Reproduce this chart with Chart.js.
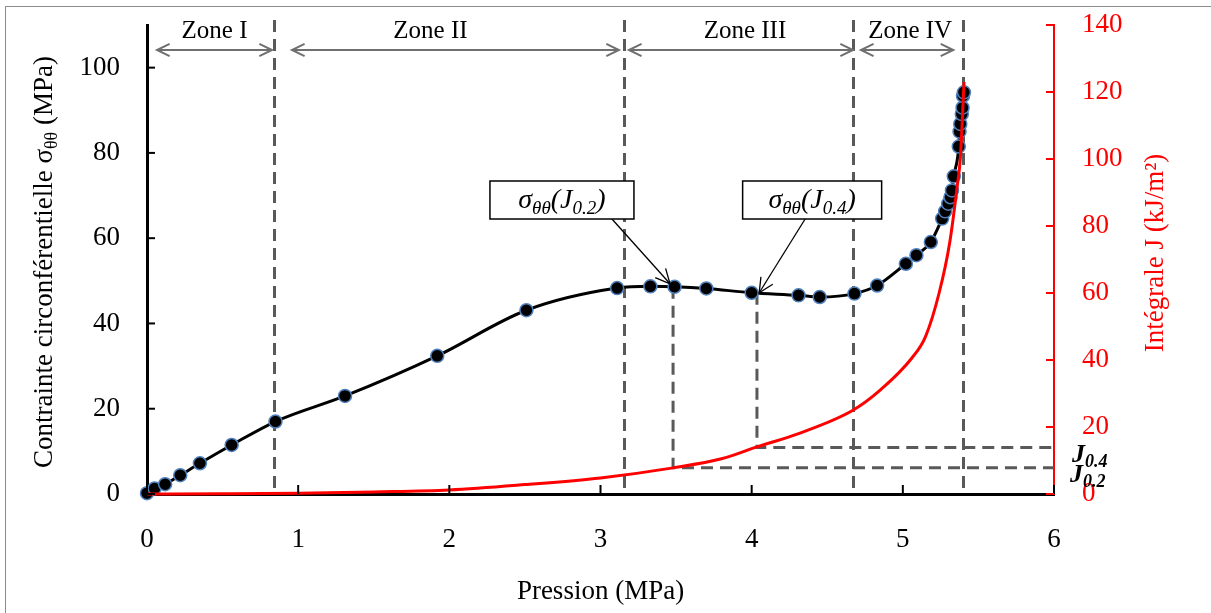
<!DOCTYPE html>
<html>
<head>
<meta charset="utf-8">
<script src="https://cdn.jsdelivr.net/npm/chart.js@4.4.0/dist/chart.umd.min.js"></script>
<style>
  body { margin: 0; background: #fff; }
  #wrap { width: 1211px; height: 613px; }
</style>
</head>
<body>
<div id="wrap"><canvas id="chart" width="1211" height="613"></canvas></div>
<script>
// contrainte circonférentielle (points mesurés)
const pressure = [0, 0.05, 0.12, 0.22, 0.35, 0.56, 0.85, 1.31, 1.92, 2.51, 3.11, 3.33, 3.49, 3.70, 4.00,
  4.31, 4.45, 4.68, 4.83, 5.02, 5.09, 5.185, 5.26, 5.28, 5.30, 5.315, 5.325, 5.337, 5.37, 5.375,
  5.38, 5.39, 5.395, 5.398, 5.404];
const sigma = [0.2, 1.3, 2.3, 4.4, 7.2, 11.5, 17.0, 23.0, 32.4, 43.1, 48.3, 48.7, 48.6, 48.2, 47.2,
  46.6, 46.2, 47.0, 48.9, 54.0, 56.0, 59.1, 64.6, 66.3, 68.1, 69.6, 71.2, 74.5, 81.5, 85.0,
  86.8, 89.1, 90.6, 93.4, 94.2];

// intégrale J
const jPressure = [0, 0.5, 1, 1.5, 2, 2.5, 3, 3.48, 3.8, 4.03, 4.32, 4.67, 4.85, 5.06, 5.15, 5.24, 5.31, 5.36, 5.38, 5.405];
const jIntegral = [0, 0.05, 0.2, 0.6, 1.2, 2.8, 4.8, 7.8, 10.5, 14.0, 18.2, 25.0, 31.0, 40.6, 47.0, 60.0, 75.0, 92.0, 100.0, 123.0];

// ticks
const xTicks = [0, 1, 2, 3, 4, 5, 6];
const leftTicks = [0, 20, 40, 60, 80, 100];
const rightTicks = [0, 20, 40, 60, 80, 100, 120, 140];

// zones
const zoneNames = ['Zone I', 'Zone II', 'Zone III', 'Zone IV'];
const zoneBounds = [0, 0.84, 3.155, 4.67, 5.40];

// seuils J0.2 / J0.4
const jMarkNames = ['0.2', '0.4'];
const jMarkPressure = [3.48, 4.035];
const jMarkSigma = [48.6, 47.2];
const jMarkValue = [7.8, 13.9];

const SERIF = "'Liberation Serif', 'Times New Roman', serif";

function drawRich(ctx, parts, x, y) {
  for (const p of parts) {
    ctx.font = p.font;
    ctx.fillText(p.t, x, y + (p.dy || 0));
    x += ctx.measureText(p.t).width;
  }
}
function richWidth(ctx, parts) {
  let w = 0;
  for (const p of parts) { ctx.font = p.font; w += ctx.measureText(p.t).width; }
  return w;
}
function arrowHead(ctx, x1, y1, x2, y2, len) {
  const a = Math.atan2(y2 - y1, x2 - x1);
  ctx.beginPath();
  ctx.moveTo(x2 - len * Math.cos(a - 0.45), y2 - len * Math.sin(a - 0.45));
  ctx.lineTo(x2, y2);
  ctx.lineTo(x2 - len * Math.cos(a + 0.45), y2 - len * Math.sin(a + 0.45));
  ctx.stroke();
}
function noPad(s) {
  s.paddingTop = 0; s.paddingBottom = 0; s.paddingLeft = 0; s.paddingRight = 0;
}

const decor = {
  id: 'decor',
  beforeDatasetsDraw(chart) {
    const { ctx, scales: { x, y, y1 }, chartArea } = chart;
    ctx.save();
    ctx.strokeStyle = '#595959';
    ctx.lineWidth = 3;
    ctx.setLineDash([12, 7]);
    // limites de zones
    for (let i = 1; i < zoneBounds.length; i++) {
      const px = Math.round(x.getPixelForValue(zoneBounds[i])) + 0.5;
      ctx.beginPath();
      ctx.moveTo(px, 20);
      ctx.lineTo(px, chartArea.bottom);
      ctx.stroke();
    }
    // repères J0.2 / J0.4
    for (let i = 0; i < jMarkPressure.length; i++) {
      const px = x.getPixelForValue(jMarkPressure[i]);
      const pyTop = y.getPixelForValue(jMarkSigma[i]);
      const pyJ = y1.getPixelForValue(jMarkValue[i]);
      ctx.beginPath();
      ctx.moveTo(px, pyTop);
      ctx.lineTo(px, pyJ);
      ctx.lineTo(chartArea.right, pyJ);
      ctx.stroke();
    }
    ctx.restore();
  },
  afterDraw(chart) {
    const { ctx, scales: { x, y, y1 }, chartArea } = chart;
    ctx.save();

    // cadre
    ctx.strokeStyle = '#8c8c8c';
    ctx.lineWidth = 1;
    ctx.strokeRect(5.5, 6.5, 1220, 620);

    // graduations intérieures
    ctx.lineWidth = 2;
    ctx.strokeStyle = '#000';
    for (const v of leftTicks) {
      const py = y.getPixelForValue(v);
      ctx.beginPath(); ctx.moveTo(chartArea.left, py); ctx.lineTo(chartArea.left + 8, py); ctx.stroke();
    }
    for (const v of xTicks) {
      const px = x.getPixelForValue(v);
      ctx.beginPath(); ctx.moveTo(px, chartArea.bottom); ctx.lineTo(px, chartArea.bottom - 9); ctx.stroke();
    }
    ctx.strokeStyle = '#ff0000';
    for (const v of rightTicks) {
      const py = y1.getPixelForValue(v);
      ctx.beginPath(); ctx.moveTo(chartArea.right, py); ctx.lineTo(chartArea.right - 8, py); ctx.stroke();
    }

    // zones
    ctx.strokeStyle = '#707070';
    ctx.lineWidth = 2;
    ctx.fillStyle = '#000';
    ctx.textAlign = 'center';
    ctx.textBaseline = 'middle';
    ctx.font = '25px ' + SERIF;
    const startGap = [10, 18, 5, 8];
    const endGap = [2, 5, 0, 10];
    const labelShift = [0, -25, 4, 3];
    for (let i = 0; i < zoneNames.length; i++) {
      const a = x.getPixelForValue(zoneBounds[i]) + startGap[i];
      const b = x.getPixelForValue(zoneBounds[i + 1]) - endGap[i];
      const ay = 50;
      ctx.beginPath(); ctx.moveTo(a, ay); ctx.lineTo(b, ay); ctx.stroke();
      arrowHead(ctx, b, ay, a, ay, 14);
      arrowHead(ctx, a, ay, b, ay, 14);
      ctx.fillText(zoneNames[i], (a + b) / 2 + labelShift[i], 31);
    }

    // boîtes σθθ(J)
    const boxW = [144, 139];
    const boxCx = [2.745, 4.40];
    const tipP = [3.46, 4.05];
    const tipS = [49.3, 47.2];
    const tailDx = [50, -7];
    ctx.textAlign = 'left';
    ctx.textBaseline = 'alphabetic';
    for (let i = 0; i < jMarkNames.length; i++) {
      const cx = x.getPixelForValue(boxCx[i]);
      const top = 181, h = 38;
      // flèche
      const tx = x.getPixelForValue(tipP[i]);
      const ty = y.getPixelForValue(tipS[i]);
      ctx.strokeStyle = '#000';
      ctx.lineWidth = 1.3;
      ctx.beginPath(); ctx.moveTo(cx + tailDx[i], top + h); ctx.lineTo(tx, ty); ctx.stroke();
      arrowHead(ctx, cx + tailDx[i], top + h, tx, ty, 16);
      ctx.fillStyle = '#fff';
      ctx.fillRect(cx - boxW[i] / 2, top, boxW[i], h);
      ctx.lineWidth = 1.5;
      ctx.strokeRect(cx - boxW[i] / 2, top, boxW[i], h);
      const parts = [
        { t: 'σ', font: 'italic 28px ' + SERIF },
        { t: 'θθ', font: 'italic 19px ' + SERIF, dy: 6 },
        { t: '(J', font: 'italic 28px ' + SERIF },
        { t: jMarkNames[i], font: 'italic 19px ' + SERIF, dy: 6 },
        { t: ')', font: 'italic 28px ' + SERIF }
      ];
      ctx.fillStyle = '#000';
      drawRich(ctx, parts, cx - richWidth(ctx, parts) / 2, top + 27);
    }

    // étiquettes J0.4 / J0.2
    const jLabelX = [1070, 1072];
    const jLabelY = [482, 462];
    for (let i = 0; i < jMarkNames.length; i++) {
      drawRich(ctx, [
        { t: 'J', font: 'bold italic 26px ' + SERIF },
        { t: jMarkNames[i], font: 'bold italic 18px ' + SERIF, dy: 5 }
      ], jLabelX[i], jLabelY[i]);
    }

    // titres des axes
    ctx.textBaseline = 'middle';
    const leftTitle = [
      { t: 'Contrainte circonférentielle σ', font: '27px ' + SERIF },
      { t: 'θθ', font: '18px ' + SERIF, dy: 7 },
      { t: ' (MPa)', font: '27px ' + SERIF }
    ];
    ctx.save();
    ctx.translate(45, 262);
    ctx.rotate(-Math.PI / 2);
    drawRich(ctx, leftTitle, -richWidth(ctx, leftTitle) / 2, 0);
    ctx.restore();

    ctx.save();
    ctx.translate(1156, 253);
    ctx.rotate(-Math.PI / 2);
    ctx.fillStyle = '#ff0000';
    ctx.textAlign = 'center';
    ctx.font = '27px ' + SERIF;
    ctx.fillText('Intégrale J (kJ/m²)', 0, 0);
    ctx.restore();

    ctx.fillStyle = '#000';
    ctx.textAlign = 'center';
    ctx.font = '27px ' + SERIF;
    ctx.fillText('Pression (MPa)', (chartArea.left + chartArea.right) / 2, 592);

    ctx.restore();
  }
};

const tickFont = { family: SERIF, size: 27 };

new Chart(document.getElementById('chart'), {
  type: 'scatter',
  data: {
    datasets: [
      {
        label: 'J',
        data: jPressure.map((p, i) => ({ x: p, y: jIntegral[i] })),
        yAxisID: 'y1',
        showLine: true,
        borderColor: '#ff0000',
        borderWidth: 3,
        pointRadius: 0,
        cubicInterpolationMode: 'monotone',
        clip: 12,
        order: 0
      },
      {
        label: 'σθθ',
        data: pressure.map((p, i) => ({ x: p, y: sigma[i] })),
        yAxisID: 'y',
        showLine: true,
        borderColor: '#000',
        borderWidth: 3,
        cubicInterpolationMode: 'monotone',
        pointRadius: 6.5,
        pointBackgroundColor: '#000',
        pointBorderColor: '#4f81bd',
        pointBorderWidth: 1.5,
        clip: 12,
        order: 1
      }
    ]
  },
  options: {
    responsive: false,
    animation: false,
    layout: { padding: { top: 25 } },
    plugins: { legend: { display: false }, tooltip: { enabled: false } },
    scales: {
      x: {
        type: 'linear', min: 0, max: 6,
        ticks: { stepSize: 1, padding: 30, color: '#000', font: tickFont, maxRotation: 0 },
        grid: { display: false, drawTicks: false },
        border: { color: '#000', width: 3 },
        afterFit(s) { s.height = 119; noPad(s); }
      },
      y: {
        position: 'left', min: 0, max: 110,
        ticks: { stepSize: 20, includeBounds: false, padding: 27, color: '#000', font: tickFont },
        grid: { display: false, drawTicks: false },
        border: { color: '#000', width: 3 },
        afterFit(s) { s.width = 147; noPad(s); }
      },
      y1: {
        position: 'right', min: 0, max: 140,
        ticks: { stepSize: 20, padding: 28, color: '#ff0000', font: tickFont },
        grid: { display: false, drawTicks: false },
        border: { color: '#ff0000', width: 2 },
        afterFit(s) { s.width = 157; noPad(s); }
      }
    }
  },
  plugins: [decor]
});
</script>
</body>
</html>
